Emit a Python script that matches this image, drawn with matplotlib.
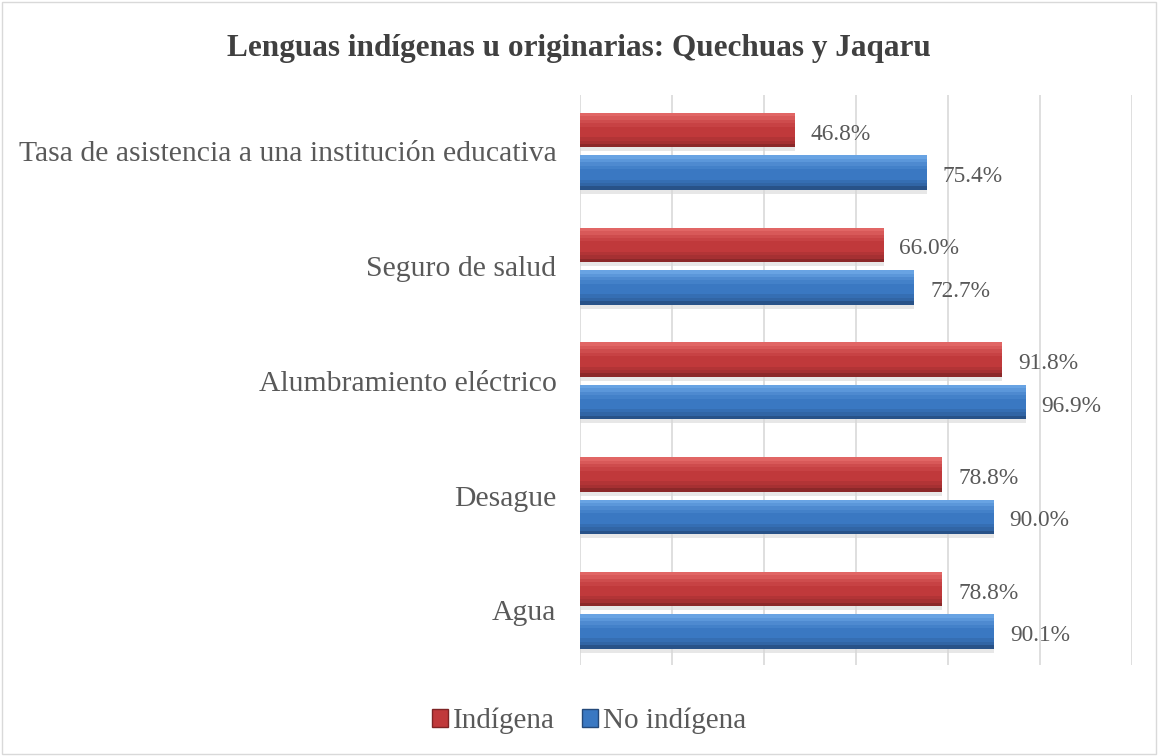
import numpy as np
import matplotlib.pyplot as plt
from matplotlib.patches import Rectangle

plt.rcParams['font.family'] = ['Liberation Serif', 'DejaVu Serif']

categorias = ['Agua', 'Desague', 'Alumbramiento eléctrico', 'Seguro de salud',
              'Tasa de asistencia a una institución educativa']
indigena = [78.8, 78.8, 91.8, 66.0, 46.8]
no_indigena = [90.1, 90.0, 96.9, 72.7, 75.4]

rojo = '#C0393B'
azul = '#3A78C2'
gris = '#595959'

fig = plt.figure(figsize=(11.58, 7.56), dpi=100)
fig.patches.append(Rectangle((0.002, 0.002), 0.996, 0.996, transform=fig.transFigure,
                             fill=False, edgecolor='#D9D9D9', linewidth=1))
ax = fig.add_axes([0.5009, 0.120, 0.4766, 0.754])

y = np.arange(len(categorias))
h = 0.30
off = 0.185


def barras(pos, valores, color, claro, oscuro):
    # sombra, cuerpo y un degradado sencillo arriba/abajo
    ax.barh(pos - 0.035, valores, height=h, color='#D8D8D8', alpha=0.6, zorder=2)
    ax.barh(pos, valores, height=h, color=color, zorder=3)
    for k, a in enumerate([0.7, 0.5, 0.3, 0.15]):
        ax.barh(pos + h * (0.45 - 0.1 * k), valores, height=h * 0.1, color=claro,
                alpha=a, zorder=4, linewidth=0)
    for k, a in enumerate([0.8, 0.4, 0.2]):
        ax.barh(pos - h * (0.45 - 0.1 * k), valores, height=h * 0.1, color=oscuro,
                alpha=a, zorder=4, linewidth=0)


barras(y + off, indigena, rojo, '#F07A78', '#7E2425')
barras(y - off, no_indigena, azul, '#7DB6F2', '#24497A')

for i in range(len(categorias)):
    ax.text(indigena[i] + 3.4, y[i] + off - 0.035, f'{indigena[i]:.1f}%', va='center',
            ha='left', fontsize=16.8, color=gris)
    ax.text(no_indigena[i] + 3.4, y[i] - off - 0.035, f'{no_indigena[i]:.1f}%', va='center',
            ha='left', fontsize=16.8, color=gris)

ax.set_xlim(0, 120)
ax.set_ylim(-0.48, 4.49)
ax.set_xticks(np.arange(0, 121, 20))
ax.set_xticklabels([])
ax.set_yticks(y)
ax.set_yticklabels(categorias, fontsize=21.4, color=gris)
ax.tick_params(axis='both', length=0, pad=17)
ax.grid(axis='x', color='#D9D9D9', linewidth=1.2, zorder=0)
ax.set_axisbelow(True)
for s in ax.spines.values():
    s.set_visible(False)

fig.text(0.5, 0.936, 'Lenguas indígenas u originarias: Quechuas y Jaqaru', ha='center',
         va='center', fontsize=22.5, fontweight='bold', color='#404040')

handles = [Rectangle((0, 0), 1, 1, facecolor=rojo, edgecolor='#7E2425'),
           Rectangle((0, 0), 1, 1, facecolor=azul, edgecolor='#24497A')]
fig.legend(handles, ['Indígena', 'No indígena'], loc='center', bbox_to_anchor=(0.5086, 0.046),
           ncol=2, frameon=False, fontsize=21, labelcolor=gris, handlelength=0.55,
           handleheight=0.55, handletextpad=0.15, columnspacing=0.95)

plt.savefig('out.png', dpi=100)
